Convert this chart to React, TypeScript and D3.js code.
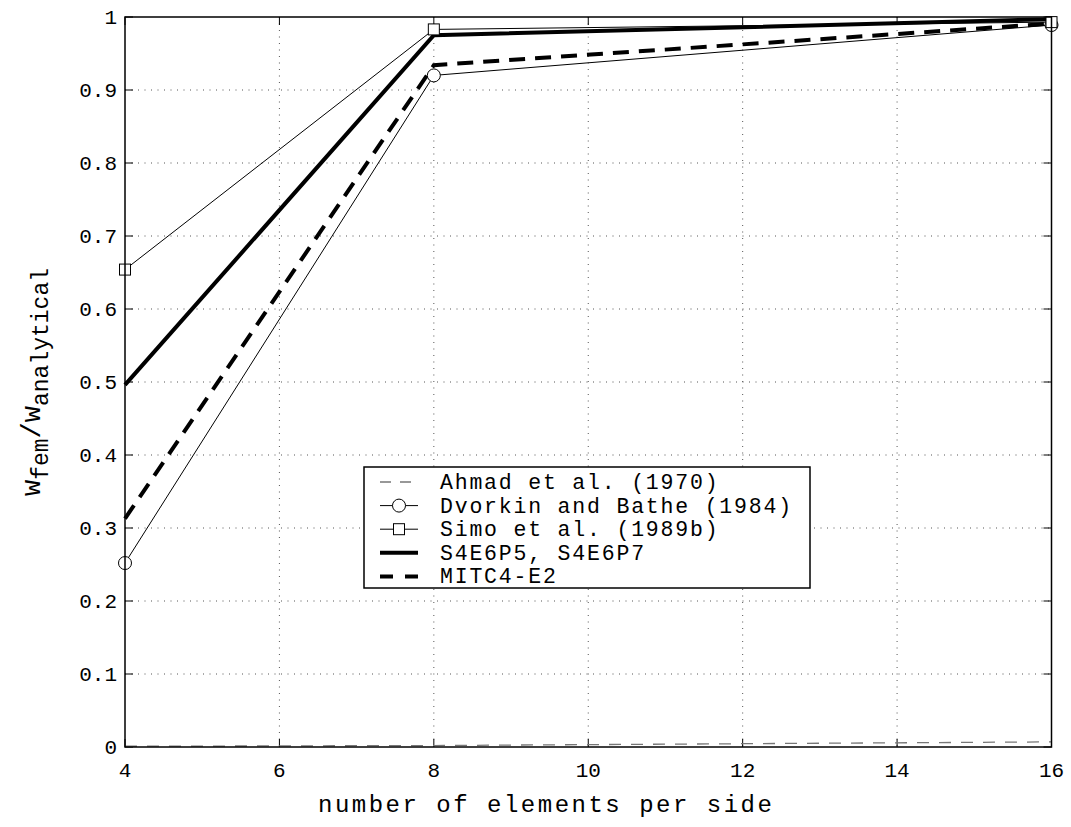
import React from "react";
import * as d3 from "d3";

const xValues = [4, 8, 16];
const ahmad = [0.001, 0.002, 0.007];
const dvorkin = [0.252, 0.92, 0.989];
const simo = [0.654, 0.983, 0.993];
const s4e6 = [0.496, 0.975, 0.997];
const mitc = [0.313, 0.934, 0.991];
const xTicks = [4, 6, 8, 10, 12, 14, 16];
const yTicks = [0, 0.1, 0.2, 0.3, 0.4, 0.5, 0.6, 0.7, 0.8, 0.9, 1];
const legendLabels = [
  "Ahmad et al. (1970)",
  "Dvorkin and Bathe (1984)",
  "Simo et al. (1989b)",
  "S4E6P5, S4E6P7",
  "MITC4-E2",
];

const W = 1071;
const H = 827;
const L = 125, R = 1051.5, T = 17, B = 747;
const FONT = "'Courier New', 'Nimbus Mono PS', 'Nimbus Mono L', FreeMono, Courier, 'Liberation Mono', monospace";

export default function App() {
  const x = d3.scaleLinear().domain([4, 16]).range([L, R]);
  const y = d3.scaleLinear().domain([0, 1]).range([B, T]);
  const line = (vals: number[]) =>
    d3.line<number>().x((_, i) => x(xValues[i])).y((d) => y(d))(vals) || "";

  const styles = [
    { stroke: "#777", width: 1.3, dash: "12,10", marker: null },
    { stroke: "#000", width: 1, dash: null, marker: "circle" },
    { stroke: "#000", width: 1, dash: null, marker: "square" },
    { stroke: "#000", width: 4, dash: null, marker: null },
    { stroke: "#000", width: 4, dash: "16,10", marker: null },
  ];
  const series = [ahmad, dvorkin, simo, s4e6, mitc];

  const marker = (kind: string | null, cx: number, cy: number, key: any) => {
    if (kind === "circle")
      return <circle key={key} cx={cx} cy={cy} r={6.5} fill="#fff" stroke="#000" strokeWidth={1} />;
    if (kind === "square")
      return <rect key={key} x={cx - 5.5} y={cy - 5.5} width={11} height={11} fill="#fff" stroke="#000" strokeWidth={1} />;
    return null;
  };

  const legX = 364, legY = 467, legW = 446, legH = 121, rowH = 23.6;

  return (
    <svg width={W} height={H} style={{ display: "block", position: "absolute", left: 0, top: 0 }} fontFamily={FONT}>
      <rect width={W} height={H} fill="#fff" />
      {/* grid */}
      {xTicks.slice(1, -1).map((t) => (
        <line key={"gx" + t} x1={x(t)} x2={x(t)} y1={T} y2={B} stroke="#555" strokeWidth={1} strokeDasharray="1,5.5" />
      ))}
      {yTicks.slice(1, -1).map((t) => (
        <line key={"gy" + t} x1={L} x2={R} y1={y(t)} y2={y(t)} stroke="#555" strokeWidth={1} strokeDasharray="1,5.5" />
      ))}
      {/* ticks */}
      {xTicks.map((t) => (
        <g key={"tx" + t}>
          <line x1={x(t)} x2={x(t)} y1={B} y2={B - 8} stroke="#000" />
          <line x1={x(t)} x2={x(t)} y1={T} y2={T + 8} stroke="#000" />
          <text x={x(t)} y={B + 30} textAnchor="middle" fontSize={21} fill="#000">{t}</text>
        </g>
      ))}
      {yTicks.map((t) => (
        <g key={"ty" + t}>
          <line x1={L} x2={L + 8} y1={y(t)} y2={y(t)} stroke="#000" />
          <line x1={R} x2={R - 8} y1={y(t)} y2={y(t)} stroke="#000" />
          <text x={L - 8} y={y(t) + 7} textAnchor="end" fontSize={21} fill="#000">{String(t)}</text>
        </g>
      ))}
      {/* series */}
      {series.map((vals, i) => (
        <path key={"s" + i} d={line(vals)} fill="none" stroke={styles[i].stroke} strokeWidth={styles[i].width}
          strokeDasharray={styles[i].dash || undefined} />
      ))}
      {series.map((vals, i) => vals.map((v, j) => marker(styles[i].marker, x(xValues[j]), y(v), "m" + i + "_" + j)))}
      {/* box */}
      <rect x={L} y={T} width={R - L} height={B - T} fill="none" stroke="#000" strokeWidth={1.5} />
      {/* legend */}
      <rect x={legX} y={legY} width={legW} height={legH} fill="#fff" stroke="#000" strokeWidth={1.5} />
      {legendLabels.map((lab, i) => {
        const cy = legY + 15 + i * rowH;
        const s = styles[i];
        return (
          <g key={"l" + i}>
            <line x1={380} x2={418} y1={cy} y2={cy} stroke={s.stroke} strokeWidth={s.width}
              strokeDasharray={i === 0 ? "11,9" : i === 4 ? "13,12" : undefined} />
            {marker(s.marker, 399, cy, "lm" + i)}
            <text x={440} y={cy + 7} fontSize={21.5} letterSpacing={1.8} fill="#000">{lab}</text>
          </g>
        );
      })}
      {/* axis labels */}
      <text x={318} y={812} fontSize={24} letterSpacing={2.5} fill="#000">number of elements per side</text>
      <text transform={`translate(40, 382) rotate(-90)`} textAnchor="middle" fontSize={27} fill="#000">
        w<tspan fontSize={23} dy={8}>fem</tspan><tspan fontSize={27} dy={-8}>/w</tspan><tspan fontSize={23} dy={8}>analytical</tspan>
      </text>
    </svg>
  );
}
